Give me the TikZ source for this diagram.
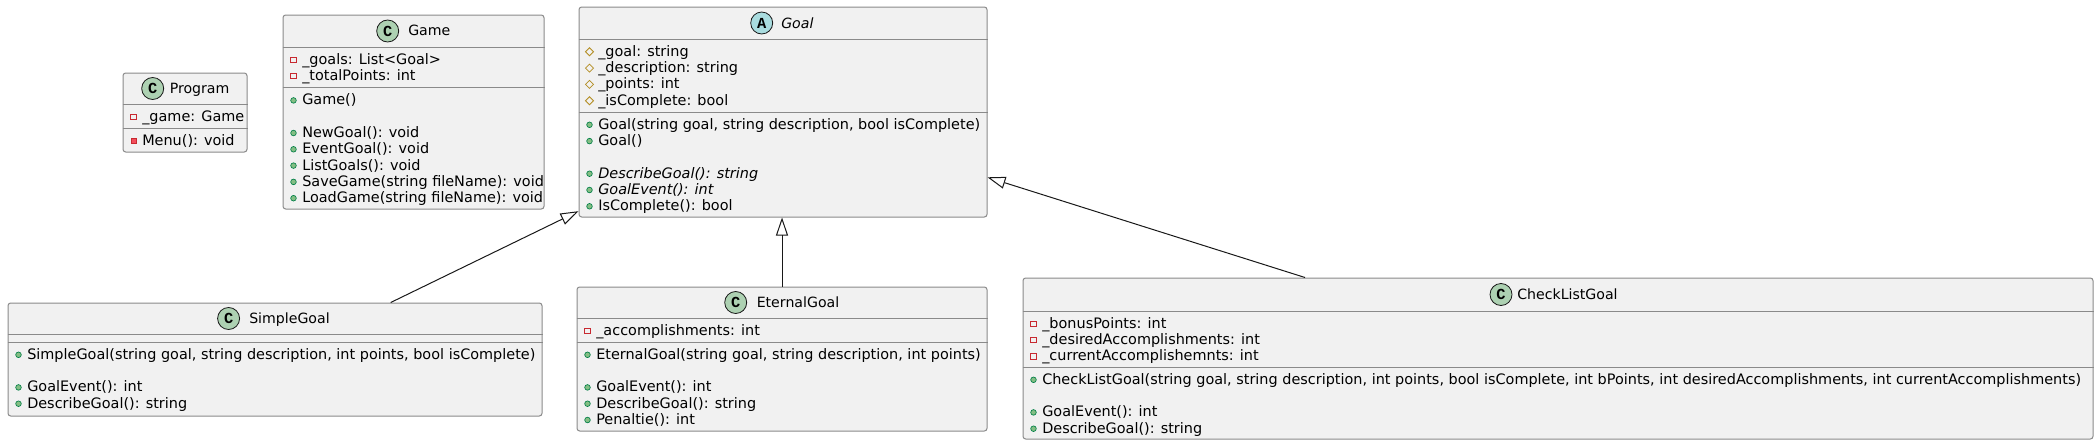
\documentclass[tikz,border=0pt]{standalone}
\usepackage{fontspec}
\setmainfont{DejaVu Sans}
\newfontfamily\circfont{Liberation Mono}
\usetikzlibrary{arrows.meta,calc}

\definecolor{boxfill}{HTML}{F1F1F1}
\definecolor{boxline}{HTML}{8A8A8A}
\definecolor{edgeline}{HTML}{181818}
\definecolor{classcirc}{HTML}{ADD1B2}
\definecolor{abstcirc}{HTML}{A9DCDF}
\definecolor{privline}{HTML}{C82930}
\definecolor{privfill}{HTML}{F24D5C}
\definecolor{protline}{HTML}{B38D22}
\definecolor{publine}{HTML}{038048}
\definecolor{pubfill}{HTML}{84BE84}

\tikzset{
  classbox/.style={draw=boxline, fill=boxfill, line width=0.75pt, rounded corners=2pt, inner sep=0pt},
  sepline/.style={draw=boxline, line width=0.75pt},
  member/.style={anchor=base west, inner sep=0pt, font=\fontsize{10.82pt}{12pt}\selectfont},
  classname/.style={anchor=base west, inner sep=0pt, font=\fontsize{10.6pt}{12pt}\selectfont},
  classcircle/.style={circle, draw=edgeline, line width=0.6pt, minimum size=16.5pt, inner sep=0pt,
    font=\circfont\bfseries\fontsize{11.5pt}{12pt}\selectfont},
  extends/.style={draw=edgeline, line width=0.75pt, -{Triangle[open, length=13.5pt, width=9pt]}},
  privfield/.pic={\draw[privline, line width=0.6pt] (-2pt,-2pt) rectangle (2pt,2pt);},
  privmeth/.pic={\filldraw[draw=privline, fill=privfill, line width=0.5pt] (-2pt,-2pt) rectangle (2pt,2pt);},
  protfield/.pic={\draw[protline, line width=0.6pt] (0,3pt) -- (3pt,0) -- (0,-3pt) -- (-3pt,0) -- cycle;},
  pubmeth/.pic={\filldraw[draw=publine, fill=pubfill, line width=0.5pt] (0,0) circle (2.1pt);},
}

\begin{document}
\begin{tikzpicture}[x=0.75pt, y=-0.75pt]
  \useasboundingbox (0,0) rectangle (2100,446);

  % class boxes
  \node[classbox, minimum width=93pt, minimum height=59.25pt] (program) at (185,112.5) {};
  \node[classbox, minimum width=195.75pt, minimum height=145.5pt] (game) at (413.5,112) {};
  \node[classbox, minimum width=306pt, minimum height=157.5pt] (goal) at (783,112) {};
  \node[classbox, minimum width=400.5pt, minimum height=84.75pt] (simple) at (275,359.5) {};
  \node[classbox, minimum width=307.5pt, minimum height=108pt] (eternal) at (782,359) {};
  \node[classbox, minimum width=802.5pt, minimum height=120.75pt] (checklist) at (1558,358.5) {};

  % compartments
  \draw[sepline] (program.west |- 0,104) -- (program.east |- 0,104);
  \draw[sepline] (program.west |- 0,128) -- (program.east |- 0,128);
  \draw[sepline] (game.west |- 0,47) -- (game.east |- 0,47);
  \draw[sepline] (game.west |- 0,87.6) -- (game.east |- 0,87.6);
  \draw[sepline] (goal.west |- 0,39) -- (goal.east |- 0,39);
  \draw[sepline] (goal.west |- 0,112) -- (goal.east |- 0,112);
  \draw[sepline] (simple.west |- 0,334) -- (simple.east |- 0,334);
  \draw[sepline] (simple.west |- 0,342) -- (simple.east |- 0,342);
  \draw[sepline] (eternal.west |- 0,318) -- (eternal.east |- 0,318);
  \draw[sepline] (eternal.west |- 0,342) -- (eternal.east |- 0,342);
  \draw[sepline] (checklist.west |- 0,311) -- (checklist.east |- 0,311);
  \draw[sepline] (checklist.west |- 0,367.6) -- (checklist.east |- 0,367.6);

  % headers
  \node[classcircle, fill=classcirc] (programC) at (152.7,88.5) {C};
  \node[classname] (programT) at (169.5,93.5) {Program};
  \node[classcircle, fill=classcirc] (gameC) at (387.7,31) {C};
  \node[classname] (gameT) at (408,36) {Game};
  \node[classcircle, fill=abstcirc] (goalA) at (761.7,23) {A};
  \node[classname] (goalT) at (781,28) {\textit{Goal}};
  \node[classcircle, fill=classcirc] (simpleC) at (228.6,318.5) {C};
  \node[classname] (simpleT) at (249,323.5) {SimpleGoal};
  \node[classcircle, fill=classcirc] (eternalC) at (735.7,302.5) {C};
  \node[classname] (eternalT) at (756.5,307.5) {EternalGoal};
  \node[classcircle, fill=classcirc] (checklistC) at (1501,294.5) {C};
  \node[classname] (checklistT) at (1517,299.5) {CheckListGoal};

  % Program
  \pic at (133.5,116.8) {privfield};
  \node[member] (programA1) at (142,121.3) {\_game: Game};
  \pic at (133.5,140.8) {privmeth};
  \node[member] (programM1) at (142,145.3) {Menu(): void};

  % Game
  \foreach \y/\txt [count=\i] in {59/{\_goals: List<Goal>}, 75.3/{\_totalPoints: int}} {
    \pic at (293.5,\y+0.8) {privfield};
    \node[member] (gameA\i) at (302,\y+5.3) {\txt};
  }
  \foreach \y/\txt [count=\i] in {99.6/{Game()}, 132.2/{NewGoal(): void}, 148.5/{EventGoal(): void},
      164.8/{ListGoals(): void}, 181.1/{SaveGame(string fileName): void}, 197.4/{LoadGame(string fileName): void}} {
    \pic at (293.5,\y+0.8) {pubmeth};
    \node[member] (gameM\i) at (302,\y+5.3) {\txt};
  }

  % Goal
  \foreach \y/\txt [count=\i] in {51/{\_goal: string}, 67.3/{\_description: string},
      83.6/{\_points: int}, 99.9/{\_isComplete: bool}} {
    \pic at (589.5,\y+0.8) {protfield};
    \node[member] (goalA\i) at (598,\y+5.3) {\txt};
  }
  \foreach \y/\txt [count=\i] in {124/{Goal(string goal, string description, bool isComplete)}, 140.3/{Goal()},
      172.9/{\textit{DescribeGoal(): string}}, 189.2/{\textit{GoalEvent(): int}}, 205.5/{IsComplete(): bool}} {
    \pic at (589.5,\y+0.8) {pubmeth};
    \node[member] (goalM\i) at (598,\y+5.3) {\txt};
  }

  % SimpleGoal
  \foreach \y/\txt [count=\i] in {354/{SimpleGoal(string goal, string description, int points, bool isComplete)},
      386.6/{GoalEvent(): int}, 402.9/{DescribeGoal(): string}} {
    \pic at (18.5,\y+0.8) {pubmeth};
    \node[member] (simpleM\i) at (27,\y+5.3) {\txt};
  }

  % EternalGoal
  \pic at (587.5,330.8) {privfield};
  \node[member] (eternalA1) at (596,335.3) {\_accomplishments: int};
  \foreach \y/\txt [count=\i] in {354/{EternalGoal(string goal, string description, int points)},
      386.6/{GoalEvent(): int}, 402.9/{DescribeGoal(): string}, 419.2/{Penaltie(): int}} {
    \pic at (587.5,\y+0.8) {pubmeth};
    \node[member] (eternalM\i) at (596,\y+5.3) {\txt};
  }

  % CheckListGoal
  \foreach \y/\txt [count=\i] in {323/{\_bonusPoints: int}, 339.3/{\_desiredAccomplishments: int},
      355.6/{\_currentAccomplishemnts: int}} {
    \pic at (1033.5,\y+0.8) {privfield};
    \node[member] (checklistA\i) at (1042,\y+5.3) {\txt};
  }
  \foreach \y/\txt [count=\i] in {379/{CheckListGoal(string goal, string description, int points, bool isComplete, int bPoints, int desiredAccomplishments, int currentAccomplishments)},
      411.6/{GoalEvent(): int}, 427.9/{DescribeGoal(): string}} {
    \pic at (1033.5,\y+0.8) {pubmeth};
    \node[member] (checklistM\i) at (1042,\y+5.3) {\txt};
  }

  % inheritance
  \draw[extends] ($(simple.north)+(115.7,0)$) -- ($(goal.south west)+(0,-6.3)$);
  \draw[extends] (eternal.north) -- (eternal.north |- goal.south);
  \draw[extends] ($(checklist.north)+(-253,0)$) -- ($(goal.east)+(0,65.3)$);
\end{tikzpicture}
\end{document}
